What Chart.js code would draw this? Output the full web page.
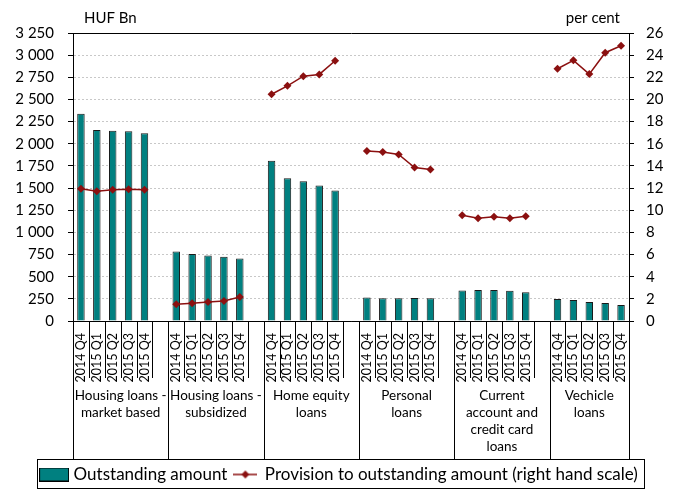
<!DOCTYPE html>
<html>
<head>
<meta charset="utf-8">
<script src="https://cdn.jsdelivr.net/npm/chart.js@4.4.1/dist/chart.umd.min.js"></script>
<style>
  body { margin: 0; background: #fff; }
  #wrap { width: 681px; height: 493px; }
</style>
</head>
<body>
<div id="wrap"><canvas id="myChart" width="681" height="493"></canvas></div>
<script>
var quarters = ['2014 Q4', '2015 Q1', '2015 Q2', '2015 Q3', '2015 Q4'];
var groupNames = [
  ['Housing loans -', 'market based'],
  ['Housing loans -', 'subsidized'],
  ['Home equity', 'loans'],
  ['Personal', 'loans'],
  ['Current', 'account and', 'credit card', 'loans'],
  ['Vechicle', 'loans']
];

// outstanding amount, HUF Bn
var hlMarket = [2340, 2155, 2148, 2140, 2118];
var hlSubsidized = [785, 755, 740, 725, 706];
var homeEquity = [1808, 1612, 1578, 1529, 1472];
var personal = [265, 258, 258, 260, 258];
var currentAcc = [343, 351, 351, 340, 325];
var vehicle = [249, 238, 215, 204, 181];

// provision to outstanding amount, per cent
var provMarket = [11.93, 11.71, 11.84, 11.90, 11.84];
var provSubsidized = [1.51, 1.60, 1.72, 1.81, 2.17];
var provHomeEquity = [20.47, 21.23, 22.10, 22.26, 23.49];
var provPersonal = [15.34, 15.25, 15.04, 13.86, 13.68];
var provCurrentAcc = [9.54, 9.27, 9.42, 9.27, 9.45];
var provVehicle = [22.77, 23.53, 22.29, 24.22, 24.85];

var leftTicksMax = 3250, leftStep = 250;
var rightTicksMax = 26, rightStep = 2;

// flatten the groups, with an empty slot between them
function flat(groups) {
  var out = [];
  groups.forEach(function (g, i) {
    if (i > 0) out.push(null);
    g.forEach(function (v) { out.push(v); });
  });
  return out;
}
var labels = [];
groupNames.forEach(function (g, i) {
  if (i > 0) labels.push('');
  quarters.forEach(function (q) { labels.push(q); });
});
var barData = flat([hlMarket, hlSubsidized, homeEquity, personal, currentAcc, vehicle]);
var lineData = flat([provMarket, provSubsidized, provHomeEquity, provPersonal, provCurrentAcc, provVehicle]);

var TEAL = '#008080';
var RED = '#8b1010';
var FONT = 'Lato, "Open Sans", sans-serif';

// little pictures for the legend
function legendBar() {
  var c = document.createElement('canvas');
  c.width = 30; c.height = 14;
  var x = c.getContext('2d');
  x.fillStyle = TEAL; x.fillRect(0, 0, 30, 14);
  x.strokeStyle = '#000'; x.lineWidth = 1; x.strokeRect(0.5, 0.5, 29, 13);
  return c;
}
function legendLine() {
  var c = document.createElement('canvas');
  c.width = 24; c.height = 10;
  var x = c.getContext('2d');
  x.strokeStyle = RED; x.lineWidth = 1.5;
  x.beginPath(); x.moveTo(0, 5); x.lineTo(24, 5); x.stroke();
  x.fillStyle = RED;
  x.beginPath(); x.moveTo(12, 1); x.lineTo(16, 5); x.lineTo(12, 9); x.lineTo(8, 5); x.closePath(); x.fill();
  return c;
}

var extras = {
  id: 'extras',
  afterDraw: function (chart) {
    var ctx = chart.ctx;
    var xs = chart.scales.x;
    var area = chart.chartArea;
    var lg = chart.legend;
    var slot = xs.getPixelForValue(1) - xs.getPixelForValue(0);
    var x0 = xs.getPixelForValue(0) - slot / 2;
    var n = labels.length;
    var qBottom = area.bottom + 57;
    var gBottom = lg.top;
    ctx.save();
    ctx.strokeStyle = '#000';
    ctx.lineWidth = 1;
    for (var b = 0; b <= n; b++) {
      var px = Math.round(x0 + b * slot) + 0.5;
      var isGroup = (b % 6 === 0) || b === n;
      ctx.beginPath();
      ctx.moveTo(px, area.bottom);
      ctx.lineTo(px, isGroup ? gBottom : qBottom);
      ctx.stroke();
    }
    // group names
    ctx.fillStyle = '#000';
    ctx.font = '13.5px ' + FONT;
    ctx.textAlign = 'center';
    ctx.textBaseline = 'middle';
    groupNames.forEach(function (g, i) {
      var a = x0 + i * 6 * slot;
      var e = x0 + Math.min(i * 6 + 6, n) * slot;
      g.forEach(function (line, j) {
        ctx.fillText(line, (a + e) / 2, area.bottom + 75 + j * 17);
      });
    });
    // axis units
    ctx.font = '15px ' + FONT;
    ctx.textAlign = 'left';
    ctx.fillText('HUF Bn', 84, 18);
    ctx.textAlign = 'right';
    ctx.fillText('per cent', 620, 18);
    // legend frame
    var hb = lg.legendHitBoxes;
    var l = Infinity, r = -Infinity;
    hb.forEach(function (h) { l = Math.min(l, h.left); r = Math.max(r, h.left + h.width); });
    ctx.strokeStyle = '#000';
    ctx.strokeRect(Math.round(l - 6) + 0.5, Math.round(lg.top) + 0.5, Math.round(r - l + 12), 29);
    ctx.restore();
  }
};

var ctx = document.getElementById('myChart').getContext('2d');
var chart = new Chart(ctx, {
  type: 'bar',
  data: {
    labels: labels,
    datasets: [{
      label: 'Outstanding amount',
      data: barData,
      backgroundColor: TEAL,
      borderColor: '#1a1a1a',
      borderWidth: 1,
      categoryPercentage: 1,
      barPercentage: 0.47,
      yAxisID: 'y',
      order: 2
    }, {
      type: 'line',
      label: 'Provision to outstanding amount (right hand scale)',
      data: lineData,
      borderColor: RED,
      backgroundColor: RED,
      borderWidth: 1.5,
      pointStyle: 'rectRot',
      pointRadius: 4,
      pointBorderWidth: 0,
      spanGaps: false,
      yAxisID: 'y1',
      order: 1
    }]
  },
  options: {
    responsive: false,
    animation: false,
    layout: { padding: { top: 33, bottom: 0, left: 0, right: 0 } },
    plugins: {
      tooltip: { enabled: false },
      legend: {
        position: 'bottom',
        labels: {
          usePointStyle: true,
          pointStyleWidth: 22,
          padding: 7,
          color: '#000',
          font: { family: FONT, size: 17 },
          generateLabels: function (ch) {
            return [
              { text: 'Outstanding amount', pointStyle: legendBar(), fillStyle: TEAL, strokeStyle: TEAL, lineWidth: 0, datasetIndex: 0, hidden: false },
              { text: 'Provision to outstanding amount (right hand scale)', pointStyle: legendLine(), fillStyle: RED, strokeStyle: RED, lineWidth: 0, datasetIndex: 1, hidden: false }
            ];
          }
        }
      }
    },
    scales: {
      x: {
        offset: true,
        grid: { display: false },
        border: { display: true, color: '#000' },
        ticks: {
          autoSkip: false,
          minRotation: 90,
          maxRotation: 90,
          padding: 4,
          color: '#000',
          font: { family: FONT, size: 12.5 }
        },
        afterFit: function (s) { s.height = 138; }
      },
      y: {
        position: 'left',
        min: 0,
        max: leftTicksMax,
        ticks: {
          stepSize: leftStep,
          padding: 14,
          color: '#000',
          font: { family: FONT, size: 15 },
          callback: function (v) { return String(v).replace(/\B(?=(\d{3})+(?!\d))/g, ' '); }
        },
        grid: {
          color: function (c) { return (c.tick && (c.tick.value === leftTicksMax || c.tick.value === 0)) ? '#000' : '#c8c8c8'; },
          tickColor: '#000',
          tickLength: 5
        },
        border: {
          display: true,
          color: '#000',
          dash: function (c) { return (c.tick && (c.tick.value === leftTicksMax || c.tick.value === 0)) ? [] : [2, 2]; }
        },
        afterFit: function (s) { s.width = 73; }
      },
      y1: {
        position: 'right',
        min: 0,
        max: rightTicksMax,
        ticks: {
          stepSize: rightStep,
          padding: 12,
          color: '#000',
          font: { family: FONT, size: 15 }
        },
        grid: { drawOnChartArea: false, tickColor: '#000', tickLength: 5 },
        border: { display: true, color: '#000' },
        afterFit: function (s) { s.width = 52; }
      }
    }
  },
  plugins: [extras]
});
</script>
</body>
</html>
